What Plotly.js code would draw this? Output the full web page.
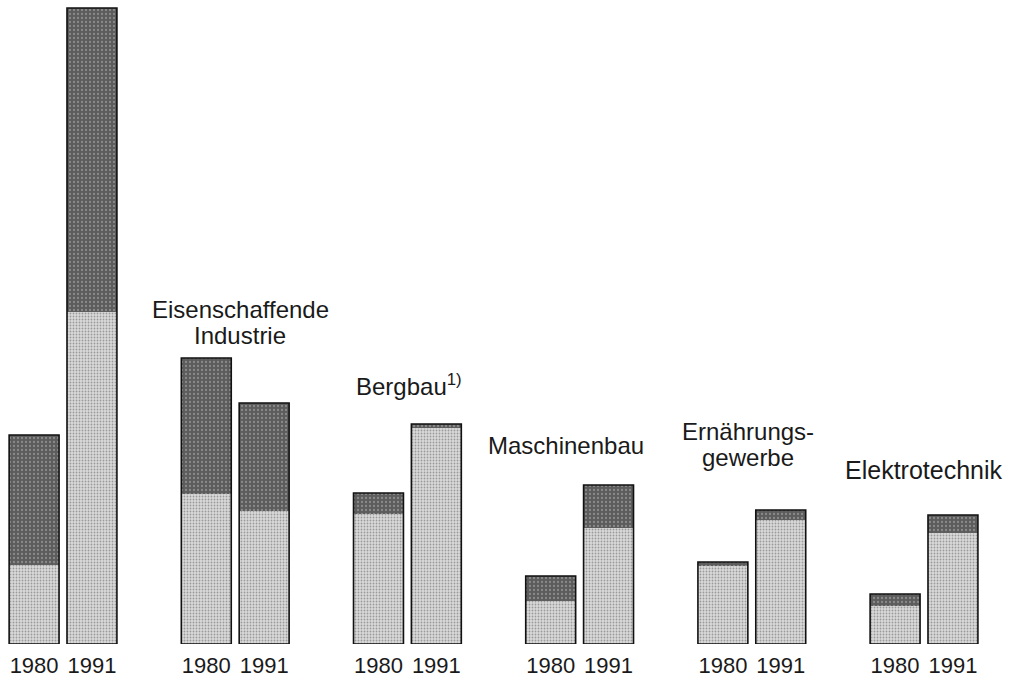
<!DOCTYPE html>
<html>
<head>
<meta charset="utf-8">
<script src="https://cdn.plot.ly/plotly-3.0.1.min.js"></script>
<style>html,body{margin:0;padding:0;background:#fff;}#chart{width:1022px;height:695px;}</style>
</head>
<body>
<div id="chart"></div>
<script>
// Branches (first group has no visible label in the picture)
const categories = ["", "Eisenschaffende<br>Industrie", "Bergbau<sup>1)</sup>", "Maschinenbau", "Ernährungs-<br>gewerbe", "Elektrotechnik"];
const years = ["1980", "1991"];
// lower (light) segment and upper (dark) segment, per group
const light1980 = [79, 150, 130, 43, 78, 38];
const dark1980  = [130, 136, 21, 25, 4, 12];
const light1991 = [332, 133, 216, 116, 124, 111];
const dark1991  = [304, 108, 4, 43, 10, 18];

// label placement (pixels above the taller bar for the last line, horizontal nudge in group units)
const labelGap = [0, 23, 39, 40, 53, 45];
const labelDx  = [0, 0.03, 0.01, -0.08, -0.02, 0.0];
const labelSize = [24, 24, 24, 24, 24, 25];
const LINE_PX = 26;

const offset = 0.168;
const barW = 0.29;
const LIGHT = "#cdcdcd", DARK = "#5c5c5c";
const FONT = "Liberation Sans, Arial, Helvetica, sans-serif";

const xs80 = categories.map((c, i) => i - offset);
const xs91 = categories.map((c, i) => i + offset);
const tot80 = light1980.map((v, i) => v + dark1980[i]);
const tot91 = light1991.map((v, i) => v + dark1991[i]);

const X = xs80.concat(xs91);
const L = light1980.concat(light1991);
const T = tot80.concat(tot91);

const traces = [
  {type: "bar", x: X, y: T, width: barW, hoverinfo: "skip",
   marker: {color: DARK, line: {width: 0},
            pattern: {shape: ".", fgcolor: "#8a8a8a", bgcolor: DARK, size: 4, solidity: 0.25}}},
  {type: "bar", x: X, y: L, width: barW, hoverinfo: "skip",
   marker: {color: LIGHT, line: {width: 0},
            pattern: {shape: ".", fgcolor: "#9a9a9a", bgcolor: "#dadada", size: 3, solidity: 0.3}}},
  {type: "bar", x: X, y: T, width: barW, hoverinfo: "skip",
   marker: {color: "rgba(0,0,0,0)", line: {width: 1.6, color: "#111"}}}
];

const tickvals = [], ticktext = [];
categories.forEach((c, i) => {
  tickvals.push(xs80[i], xs91[i]);
  ticktext.push(years[0], years[1]);
});

const annotations = [];
categories.forEach((c, i) => {
  if (!c) return;
  const lines = c.split("<br>");
  const top = Math.max(tot80[i], tot91[i]);
  lines.forEach((ln, k) => {
    const fromBottom = lines.length - 1 - k;
    annotations.push({
      x: i + labelDx[i], y: top, xref: "x", yref: "y",
      text: ln, showarrow: false, xanchor: "center", yanchor: "middle",
      yshift: labelGap[i] + fromBottom * LINE_PX,
      font: {family: FONT, size: labelSize[i], color: "#1a1a1a"}
    });
  });
});

const layout = {
  width: 1022, height: 695,
  margin: {l: 0, r: 0, t: 0, b: 51},
  paper_bgcolor: "#fff", plot_bgcolor: "#fff",
  barmode: "overlay", bargap: 0, showlegend: false,
  xaxis: {range: [-0.366, 5.569], tickvals: tickvals, ticktext: ticktext,
          showgrid: false, zeroline: false, showline: false, ticks: "",
          ticklabelstandoff: 6,
          tickfont: {family: FONT, size: 22, color: "#1a1a1a"}},
  yaxis: {range: [0, 644], visible: false, showgrid: false, zeroline: false},
  annotations: annotations
};

Plotly.newPlot("chart", traces, layout, {staticPlot: true});
</script>
</body>
</html>
